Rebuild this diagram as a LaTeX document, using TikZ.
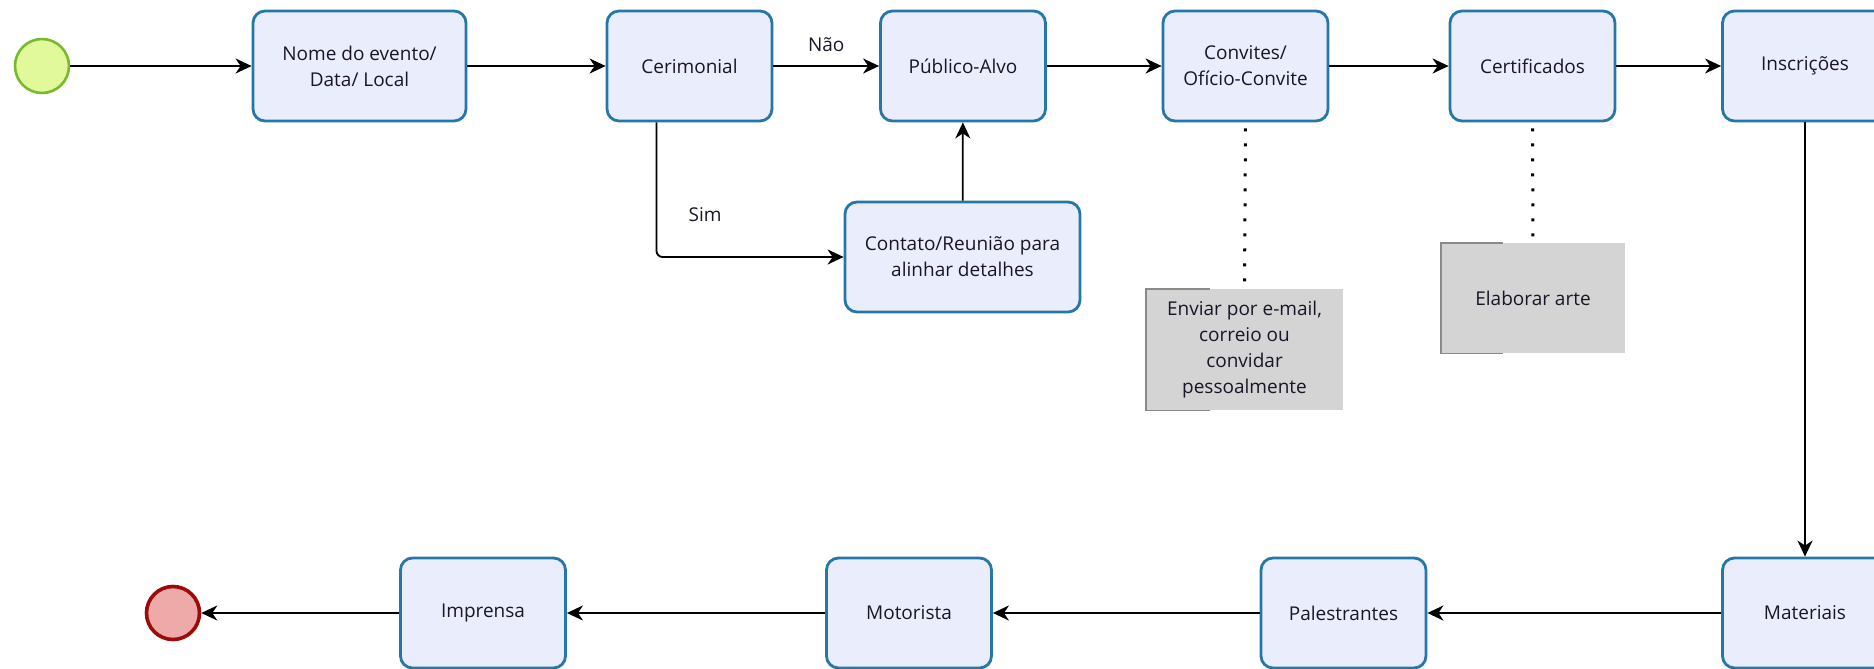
\documentclass[tikz,border=0pt]{standalone}
\usepackage{fontspec}
\setmainfont{Open Sans}
\usetikzlibrary{arrows.meta}
\definecolor{boxfill}{HTML}{EAEEFC}
\definecolor{boxdraw}{HTML}{2677A8}
\definecolor{txt}{HTML}{1A1628}
\definecolor{startfill}{HTML}{E2F99B}
\definecolor{startdraw}{HTML}{78BA2C}
\definecolor{endfill}{HTML}{EEA9A9}
\definecolor{enddraw}{HTML}{9E0A0A}
\definecolor{notefill}{HTML}{D4D4D4}
\definecolor{notedraw}{HTML}{8A8A8A}
\begin{document}
\begin{tikzpicture}[x=1pt,y=-1pt,
  every node/.style={font=\fontsize{19}{26}\selectfont, text=txt},
  task/.style={draw=boxdraw, fill=boxfill, line width=2.8pt, rounded corners=12pt,
    minimum width=165pt, minimum height=110pt, align=center, inner sep=0pt},
  startev/.style={circle, draw=startdraw, fill=startfill, line width=2.6pt, minimum size=54pt, inner sep=0pt},
  endev/.style={circle, draw=enddraw, fill=endfill, line width=3.6pt, minimum size=53pt, inner sep=0pt},
  note/.style={fill=notefill, align=center, inner sep=0pt},
  bracket/.style={draw=notedraw, line width=1.4pt},
  flow/.style={line width=1.8pt, draw=black, -{Stealth[length=16pt,width=15pt,inset=5pt]}},
  dotline/.style={line width=3pt, dash pattern=on 3pt off 12pt, dash phase=-6pt}
]
\useasboundingbox (0,0) rectangle (1874,669);
\clip (0,0) rectangle (1874,669);

% top row
\node[startev] (start) at (42,66) {};
\node[task, minimum width=213pt] (nome) at (359.5,66) {Nome do evento/\\Data/ Local};
\node[task] (cer) at (689.5,66) {Cerimonial};
\node[task] (pub) at (963,66) {Público-Alvo};
\node[task] (conv) at (1245.5,66) {Convites/\\Ofício-Convite};
\node[task] (cert) at (1532.5,66) {Certificados};
\node[task] (insc) at (1805,66) {Inscrições};
\node[task, minimum width=235pt] (cont) at (962.5,257) {Contato/Reunião para\\alinhar detalhes};

% notes
\node[note, minimum width=197pt, minimum height=121pt] (n1) at (1244.5,349.5) {Enviar por e-mail,\\correio ou\\convidar\\pessoalmente};
\node[note, minimum width=184pt, minimum height=110pt] (n2) at (1533,298) {Elaborar arte};
\draw[bracket] ([xshift=64pt]n1.north west) -- (n1.north west) -- (n1.south west) -- ([xshift=64pt]n1.south west);
\draw[bracket] ([xshift=62pt]n2.north west) -- (n2.north west) -- (n2.south west) -- ([xshift=62pt]n2.south west);

% bottom row
\node[task] (mat) at (1805,613) {Materiais};
\node[task] (pal) at (1343.5,613) {Palestrantes};
\node[task] (mot) at (909,613) {Motorista};
\node[task] (imp) at (483,613) {Imprensa};
\node[endev] (end) at (173,613) {};

% connectors
\draw[flow] (start) -- (nome);
\draw[flow] (nome) -- (cer);
\draw[flow] (cer) -- node[above=10pt] (nao) {Não} (pub);
\draw[flow] (pub) -- (conv);
\draw[flow] (conv) -- (cert);
\draw[flow] (cert) -- (insc);
\draw[flow, rounded corners=6pt] ([xshift=-33pt]cer.south) |- node[pos=0.63, above=31pt] (sim) {Sim} (cont.west);
\draw[flow] (cont) -- (pub);
\draw[dotline] (conv.south) -- (n1.north);
\draw[dotline] (cert.south) -- (n2.north);
\draw[flow] (insc) -- (mat);
\draw[flow] (mat) -- (pal);
\draw[flow] (pal) -- (mot);
\draw[flow] (mot) -- (imp);
\draw[flow] (imp) -- (end);
\end{tikzpicture}
\end{document}
